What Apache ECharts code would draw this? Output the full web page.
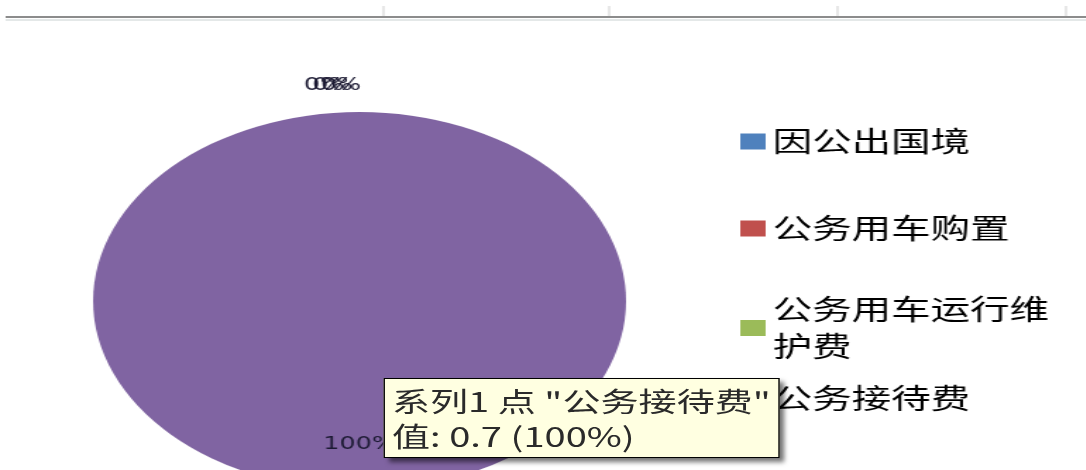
<!DOCTYPE html>
<html>
<head>
<meta charset="utf-8">
<script src="https://cdn.jsdelivr.net/npm/echarts@6/dist/echarts.min.js"></script>
<style>
    html, body { margin: 0; padding: 0; background: #fff; overflow: hidden; }
    /* the source picture is an excel chart stretched sideways, so stretch the whole chart too */
    #echarts { position: absolute; left: 0; top: 0; width: 770px; height: 470px; transform: scaleX(1.41); transform-origin: 0 0; }
</style>
</head>
<body>
<div id="echarts"></div>
<script>
    var categories = ['因公出国境', '公务用车购置', '公务用车运行维护费', '公务接待费']
    var values = [0, 0, 0, 0.7]
    var seriesName = '系列1'
    var colors = ['#4f81bd', '#c0504d', '#9bbb59', '#8064a2']

    // legend rows in excel are not evenly spaced
    var legendTops = [118, 205, 286, 375]
    var font = '"Noto Sans CJK SC", "Noto Sans", sans-serif'

    var chart = echarts.init(document.getElementById('echarts'))

    var pieData = function () {
        var res = []
        for (var i = 0; i < categories.length; i++) {
            res.push({
                name: categories[i],
                value: values[i],
                label: values[i] > 0 ? {position: 'inside'} : {position: 'outside'}
            })
        }
        return res
    }

    var legends = categories.map(function (name, i) {
        return {
            data: [name],
            orient: 'vertical',
            left: 520,
            top: legendTops[i],
            icon: 'rect',
            itemWidth: 18,
            itemHeight: 16,
            itemGap: 0,
            selectedMode: false,
            textStyle: {
                fontFamily: font,
                fontSize: 28,
                lineHeight: 37,
                color: '#000',
                width: 200,
                overflow: 'break'
            }
        }
    })

    var option = {
        animation: false,
        backgroundColor: '#fff',
        color: colors,
        legend: legends,
        tooltip: {
            trigger: 'item',
            triggerOn: 'none',
            alwaysShowContent: true,
            transitionDuration: 0,
            position: [272, 378],
            backgroundColor: '#ffffe1',
            borderColor: '#000',
            borderWidth: 1,
            borderRadius: 0,
            padding: [4, 5],
            textStyle: {
                fontFamily: font,
                fontSize: 27,
                lineHeight: 35,
                color: '#2a2a2a'
            },
            extraCssText: 'border-radius:0;box-shadow:4px 4px 4px rgba(0,0,0,0.55);white-space:nowrap;',
            formatter: '{a} 点 "{b}"<br/>值: {c} ({d}%)'
        },
        graphic: [
            {type: 'line', shape: {x1: 4, y1: 17, x2: 770, y2: 17}, style: {stroke: '#8c8c8c', lineWidth: 2}},
            {type: 'line', shape: {x1: 4, y1: 20, x2: 770, y2: 20}, style: {stroke: '#e4e8e8', lineWidth: 2}},
            {type: 'line', shape: {x1: 272, y1: 6, x2: 272, y2: 16}, style: {stroke: '#d0d0d0', lineWidth: 1}},
            {type: 'line', shape: {x1: 432, y1: 6, x2: 432, y2: 16}, style: {stroke: '#d0d0d0', lineWidth: 1}},
            {type: 'line', shape: {x1: 594, y1: 6, x2: 594, y2: 16}, style: {stroke: '#d0d0d0', lineWidth: 1}},
            {type: 'line', shape: {x1: 756, y1: 6, x2: 756, y2: 16}, style: {stroke: '#d0d0d0', lineWidth: 1}}
        ],
        series: [
            {
                name: seriesName,
                type: 'pie',
                center: [255, 301],
                radius: 189,
                startAngle: 90,
                avoidLabelOverlap: false,
                label: {
                    show: true,
                    formatter: '{d}%',
                    fontFamily: 'Verdana, "DejaVu Sans", sans-serif',
                    fontSize: 18,
                    color: '#1c1a33'
                },
                labelLine: {
                    show: false,
                    length: 27,
                    length2: 0
                },
                labelLayout: function (params) {
                    // excel drops the 100% label low and lets the 0% ones pile up on top
                    if (params.dataIndex === 3) return {dy: 46}
                    return {dx: (params.dataIndex - 1) * 6}
                },
                itemStyle: {
                    borderWidth: 0
                },
                emphasis: {disabled: true},
                data: pieData()
            }
        ]
    }

    chart.setOption(option)

    chart.dispatchAction({
        type: 'showTip',
        seriesIndex: 0,
        dataIndex: 3
    })
</script>
</body>
</html>
